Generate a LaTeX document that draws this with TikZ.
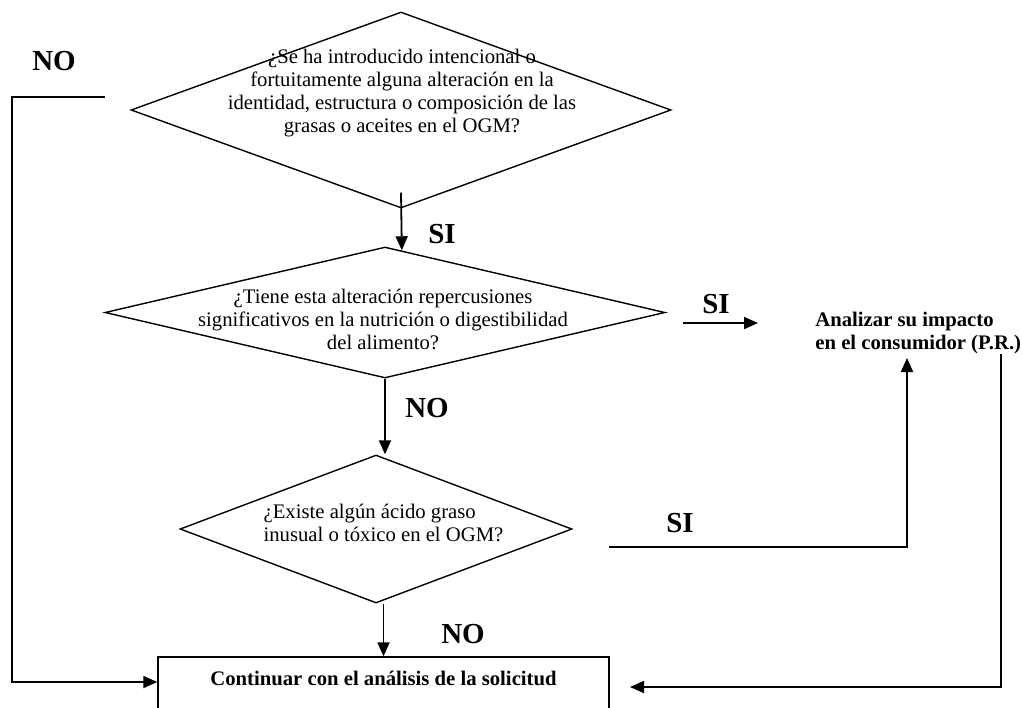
\documentclass[tikz,border=0pt]{standalone}
\usepackage{fontspec}
\setmainfont{Liberation Serif}
\usepackage{tikz}
\usetikzlibrary{shapes.geometric, arrows.meta, positioning, calc}
\newcommand{\txtsize}{\fontsize{10.35}{11.65}\selectfont}
\newcommand{\lblsize}{\fontsize{14.5}{17}\selectfont\bfseries}

\begin{document}
\begin{tikzpicture}[x=0.5pt, y=-0.5pt,
	decision/.style={shape=diamond, draw, line width=0.7pt, inner sep=0pt},
	qtext/.style={font=\txtsize, inner sep=0pt},
	lbl/.style={font=\lblsize, inner sep=0pt},
	conn/.style={line width=0.9pt, -{Triangle[length=7pt, width=6pt]}},
	endbox/.style={draw, line width=0.7pt, font=\txtsize\bfseries, minimum width=225.5pt, minimum height=30pt, text height=7.1pt, text depth=9.1pt}]
	\useasboundingbox (0,0) rectangle (1022,707);

	\node[decision, minimum width=270pt, minimum height=98pt] (d1) at (401,110) {};
	\node[decision, minimum width=280pt, minimum height=65.5pt] (d2) at (385,312.5) {};
	\node[decision, minimum width=196pt, minimum height=74pt] (d3) at (376,529) {};
	\node[endbox] (box) at (383.5,687) {Continuar con el análisis de la solicitud};
	\node[qtext, font=\txtsize\bfseries, align=left, anchor=west] (anl) at (815,333) {Analizar su impacto\\en el consumidor (P.R.)};

	\node[qtext, align=center] (d1txt) at (402,93) {¿Se ha introducido intencional o\\fortuitamente alguna alteración en la\\identidad, estructura o composición de las\\grasas o aceites en el OGM?};
	\node[qtext, align=center] (d2txt) at (383,319.5) {¿Tiene esta alteración repercusiones\\significativos en la nutrición o digestibilidad\\del alimento?};
	\node[qtext, align=left] (d3txt) at (383.5,523) {¿Existe algún ácido graso\\inusual o tóxico en el OGM?};

	\node[lbl] (no1) at (54,61) {NO};
	\node[lbl] (si1) at (442,234) {SI};
	\node[lbl] (si2) at (716,304) {SI};
	\node[lbl] (no2) at (427,408) {NO};
	\node[lbl] (si3) at (680,523) {SI};
	\node[lbl] (no3) at (463,634) {NO};

	\coordinate (nofree) at (105,97);
	\coordinate (nocorner) at (12,97);
	\coordinate (si2a) at (683,323);
	\coordinate (si2b) at (758,323);
	\coordinate (si3a) at (609,547);
	\coordinate (anlin) at (907,358);
	\coordinate (anlout) at (1001,354);
	\coordinate (boxin) at (630,687);

	\draw[conn] ([yshift=8pt]d1.south) -- ($(d2.north)!0.06!(d2.east)$);
	\draw[conn] (d2.south) -- (d2.south |- d3.north);
	\draw[conn] (d3.south -| box.north) -- (box.north);
	\draw[conn] (si2a) -- (si2b);
	\draw[conn] (nofree) -- (nocorner) |- ([yshift=2.5pt]box.west);
	\draw[conn] (si3a) -| (anlin);
	\draw[conn] (anlout) |- (boxin);
\end{tikzpicture}
\end{document}
